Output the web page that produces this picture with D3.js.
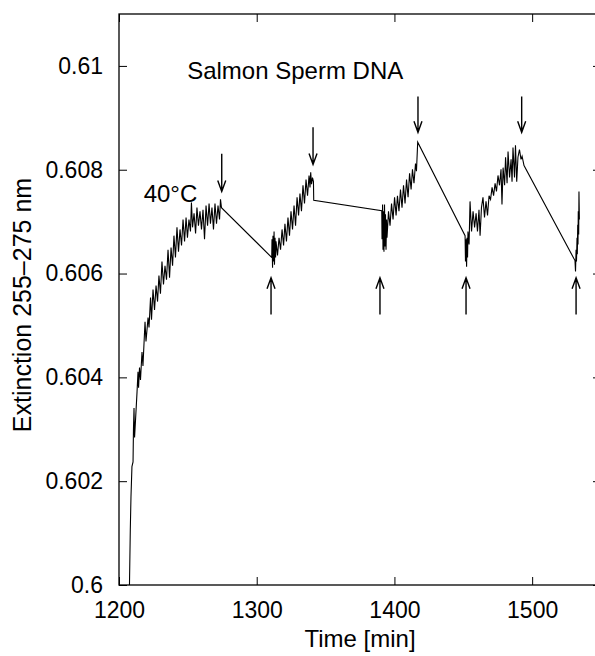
<!DOCTYPE html>
<html>
<head>
<meta charset="utf-8">
<script src="https://cdnjs.cloudflare.com/ajax/libs/d3/7.8.5/d3.min.js"></script>
<style>
  body { margin: 0; background: #fff; }
  svg { display: block; font-family: "Liberation Sans", Arial, Helvetica, sans-serif; }
</style>
</head>
<body>
<div id="chart"></div>
<script>
var xTicks = [1200, 1300, 1400, 1500];
var yTicks = [0.6, 0.602, 0.604, 0.606, 0.608, 0.61];
var yTickLabels = ["0.6", "0.602", "0.604", "0.606", "0.608", "0.61"];

// [time (min), extinction], one array per heating run
var run1 = [
  [1207.6, 0.60000], [1208.2, 0.60106], [1208.7, 0.60170], [1209.4, 0.60228], [1210.2, 0.60237],
  [1210.5, 0.60299], [1210.9, 0.60341], [1211.3, 0.60284], [1212.0, 0.60318], [1213.1, 0.60372],
  [1213.8, 0.60411], [1214.2, 0.60380], [1214.9, 0.60419], [1215.6, 0.60395], [1216.7, 0.60449],
  [1217.4, 0.60422], [1218.9, 0.60507], [1219.6, 0.60469], [1221.1, 0.60515], [1221.8, 0.60496],
  [1222.9, 0.60554], [1223.6, 0.60511], [1224.7, 0.60569], [1225.8, 0.60530], [1226.9, 0.60577],
  [1228.0, 0.60546], [1229.0, 0.60596], [1230.1, 0.60561], [1231.2, 0.60623], [1232.3, 0.60579],
  [1233.4, 0.60615], [1234.5, 0.60588], [1235.6, 0.60646], [1236.7, 0.60592], [1237.8, 0.60650],
  [1238.9, 0.60615], [1239.9, 0.60673], [1241.0, 0.60631], [1242.1, 0.60689], [1243.2, 0.60642],
  [1244.3, 0.60685], [1245.4, 0.60654], [1246.5, 0.60704], [1247.6, 0.60662], [1248.7, 0.60708],
  [1249.7, 0.60669], [1250.8, 0.60704], [1251.9, 0.60681], [1252.6, 0.60737], [1253.4, 0.60689],
  [1254.5, 0.60716], [1255.6, 0.60677], [1256.6, 0.60727], [1257.7, 0.60692], [1258.8, 0.60720],
  [1259.9, 0.60685], [1261.0, 0.60723], [1262.1, 0.60666], [1263.2, 0.60731], [1264.3, 0.60692],
  [1265.4, 0.60735], [1266.4, 0.60696], [1267.5, 0.60727], [1268.6, 0.60685], [1269.7, 0.60735],
  [1270.8, 0.60696], [1271.9, 0.60731], [1273.0, 0.60704], [1273.7, 0.60743], [1274.4, 0.60727]
];
var run2 = [
  [1310.9, 0.60631], [1311.1, 0.60666], [1311.5, 0.60611], [1311.8, 0.60673], [1312.2, 0.60623],
  [1312.6, 0.60681], [1312.9, 0.60617], [1313.3, 0.60669], [1313.7, 0.60631], [1314.0, 0.60662],
  [1315.1, 0.60635], [1316.2, 0.60669], [1317.3, 0.60646], [1318.4, 0.60685], [1319.5, 0.60654],
  [1320.5, 0.60696], [1321.6, 0.60662], [1322.7, 0.60708], [1323.8, 0.60673], [1324.9, 0.60720],
  [1326.0, 0.60685], [1327.1, 0.60731], [1328.2, 0.60692], [1329.3, 0.60747], [1330.4, 0.60712],
  [1331.4, 0.60754], [1332.5, 0.60720], [1333.6, 0.60770], [1334.7, 0.60735], [1335.8, 0.60781],
  [1336.9, 0.60750], [1338.0, 0.60789], [1338.7, 0.60766], [1339.2, 0.60795], [1339.8, 0.60772],
  [1340.5, 0.60785], [1341.2, 0.60777], [1341.4, 0.60741]
];
var run3 = [
  [1390.8, 0.60721], [1391.0, 0.60666], [1391.4, 0.60733], [1391.7, 0.60646], [1392.1, 0.60720],
  [1392.4, 0.60642], [1392.8, 0.60733], [1393.2, 0.60652], [1393.5, 0.60714], [1393.9, 0.60646],
  [1394.3, 0.60704], [1394.6, 0.60669], [1395.7, 0.60720], [1396.8, 0.60692], [1397.9, 0.60735],
  [1399.0, 0.60704], [1400.1, 0.60747], [1401.2, 0.60712], [1402.2, 0.60750], [1403.3, 0.60720],
  [1404.4, 0.60762], [1405.5, 0.60727], [1406.6, 0.60770], [1407.7, 0.60735], [1408.8, 0.60781],
  [1409.9, 0.60747], [1411.0, 0.60793], [1412.1, 0.60762], [1413.1, 0.60801], [1414.2, 0.60774],
  [1415.3, 0.60812], [1416.0, 0.60797], [1416.9, 0.60853]
];
var run4 = [
  [1451.3, 0.60673], [1451.6, 0.60623], [1452.0, 0.60666], [1452.4, 0.60613], [1452.7, 0.60669],
  [1453.1, 0.60631], [1453.4, 0.60681], [1454.2, 0.60656], [1454.9, 0.60739], [1456.0, 0.60681],
  [1457.1, 0.60720], [1458.2, 0.60689], [1459.3, 0.60716], [1460.3, 0.60681], [1461.4, 0.60723],
  [1462.2, 0.60673], [1463.2, 0.60727], [1464.3, 0.60747], [1465.4, 0.60708], [1466.5, 0.60739],
  [1467.6, 0.60712], [1468.7, 0.60750], [1469.8, 0.60743], [1470.9, 0.60766], [1472.0, 0.60750],
  [1473.1, 0.60774], [1474.1, 0.60758], [1475.2, 0.60789], [1476.3, 0.60770], [1477.4, 0.60801],
  [1478.1, 0.60733], [1478.9, 0.60804], [1480.0, 0.60770], [1480.7, 0.60824], [1481.8, 0.60774],
  [1482.5, 0.60835], [1483.6, 0.60785], [1484.7, 0.60820], [1485.4, 0.60777], [1486.1, 0.60843],
  [1487.2, 0.60785], [1487.9, 0.60847], [1488.8, 0.60777], [1489.7, 0.60824], [1490.8, 0.60839],
  [1491.9, 0.60820], [1492.7, 0.60826], [1494.1, 0.60808]
];
var run5 = [
  [1531.1, 0.60625], [1531.5, 0.60604], [1531.9, 0.60646], [1532.2, 0.60623], [1532.6, 0.60669],
  [1532.8, 0.60637], [1533.1, 0.60694], [1533.3, 0.60656], [1533.5, 0.60720], [1533.8, 0.60675],
  [1534.0, 0.60758], [1534.3, 0.60704]
];

// [time, extinction at tail, extinction at tip]
var arrowsDown = [
  [1274.6, 0.60831, 0.60758], [1340.9, 0.60882, 0.60810],
  [1417.1, 0.60941, 0.60872], [1492.4, 0.60941, 0.60872]
];
var arrowsUp = [
  [1310.4, 0.60521, 0.60592], [1389.5, 0.60521, 0.60592],
  [1452.0, 0.60521, 0.60592], [1531.9, 0.60521, 0.60592]
];

var labels = [
  {text: "Salmon Sperm DNA", t: 1249.5, e: 0.60974},
  {text: "40°C", t: 1217.9, e: 0.60737}
];

ExtinctionChart = (function () {
    var svg, x, y,
        width = 595,
        height = 656,
        plot = {left: 119, right: 601, top: 14, bottom: 585};

    function initialize(containerId) {
        svg = d3.select("#" + containerId).append("svg")
            .attr("width", width)
            .attr("height", height);

        x = d3.scaleLinear().domain([1200, 1550]).range([plot.left, plot.right]);
        y = d3.scaleLinear().domain([0.6, 0.611]).range([plot.bottom, plot.top]);

        svg.append("defs").append("clipPath").attr("id", "plotclip")
            .append("rect")
            .attr("x", plot.left).attr("y", plot.top)
            .attr("width", plot.right - plot.left)
            .attr("height", plot.bottom - plot.top);
    }

    function _axes() {
        var bottom = svg.append("g")
            .attr("transform", "translate(0," + plot.bottom + ")")
            .call(d3.axisBottom(x).tickValues(xTicks).tickSize(-8).tickPadding(17).tickFormat(d3.format("d")));
        var left = svg.append("g")
            .attr("transform", "translate(" + plot.left + ",0)")
            .call(d3.axisLeft(y).tickValues(yTicks).tickSize(-8).tickPadding(16)
                .tickFormat(function (d, i) { return yTickLabels[i]; }));
        var top = svg.append("g")
            .attr("transform", "translate(0," + plot.top + ")")
            .call(d3.axisTop(x).tickValues(xTicks).tickSize(-8).tickFormat(""));
        var right = svg.append("g")
            .attr("transform", "translate(" + plot.right + ",0)")
            .call(d3.axisRight(y).tickValues(yTicks).tickSize(-8).tickFormat(""));

        [bottom, left, top, right].forEach(function (g) {
            g.select(".domain").remove();
            g.selectAll(".tick line").attr("stroke", "#000").attr("stroke-width", 1);
            g.selectAll(".tick text")
                .attr("fill", "#000")
                .style("font-size", "23px")
                .style("font-family", "'Liberation Sans', Arial, sans-serif");
        });

        svg.append("rect")
            .attr("x", plot.left).attr("y", plot.top)
            .attr("width", plot.right - plot.left)
            .attr("height", plot.bottom - plot.top)
            .attr("fill", "none")
            .attr("stroke", "#000")
            .attr("stroke-width", 1.3);

        svg.append("text")
            .attr("x", (plot.left + plot.right) / 2)
            .attr("y", 647)
            .attr("text-anchor", "middle")
            .style("font-size", "24px")
            .text("Time [min]");

        svg.append("text")
            .attr("transform", "translate(31,305) rotate(-90)")
            .attr("text-anchor", "middle")
            .style("font-size", "25px")
            .text("Extinction 255\u2013275 nm");
    }

    function draw() {
        _axes();

        var trace = [].concat(run1, run2, run3, run4, run5);
        var line = d3.line()
            .x(function (d) { return x(d[0]); })
            .y(function (d) { return y(d[1]); });

        svg.append("path")
            .datum(trace)
            .attr("clip-path", "url(#plotclip)")
            .attr("fill", "none")
            .attr("stroke", "#000")
            .attr("stroke-width", 1.1)
            .attr("stroke-linejoin", "miter")
            .attr("d", line);

        var arrows = svg.append("g")
            .attr("fill", "none")
            .attr("stroke", "#000")
            .attr("stroke-width", 1.4);

        arrows.selectAll("path.arrow")
            .data(arrowsDown.concat(arrowsUp))
            .enter().append("path")
            .attr("class", "arrow")
            .attr("d", function (d) {
                var px = x(d[0]), tail = y(d[1]), tip = y(d[2]),
                    dir = tip > tail ? 1 : -1;
                return "M" + px + "," + tail + "L" + px + "," + tip +
                    "M" + (px - 4) + "," + (tip - dir * 11) + "L" + px + "," + tip +
                    "L" + (px + 4) + "," + (tip - dir * 11);
            });

        svg.selectAll("text.note")
            .data(labels)
            .enter().append("text")
            .attr("class", "note")
            .attr("x", function (d) { return x(d.t); })
            .attr("y", function (d) { return y(d.e); })
            .style("font-size", "24px")
            .text(function (d) { return d.text; });
    }

    return {
      initialize: initialize,
      draw: draw
    }
})();

ExtinctionChart.initialize("chart");
ExtinctionChart.draw();
</script>
</body>
</html>
